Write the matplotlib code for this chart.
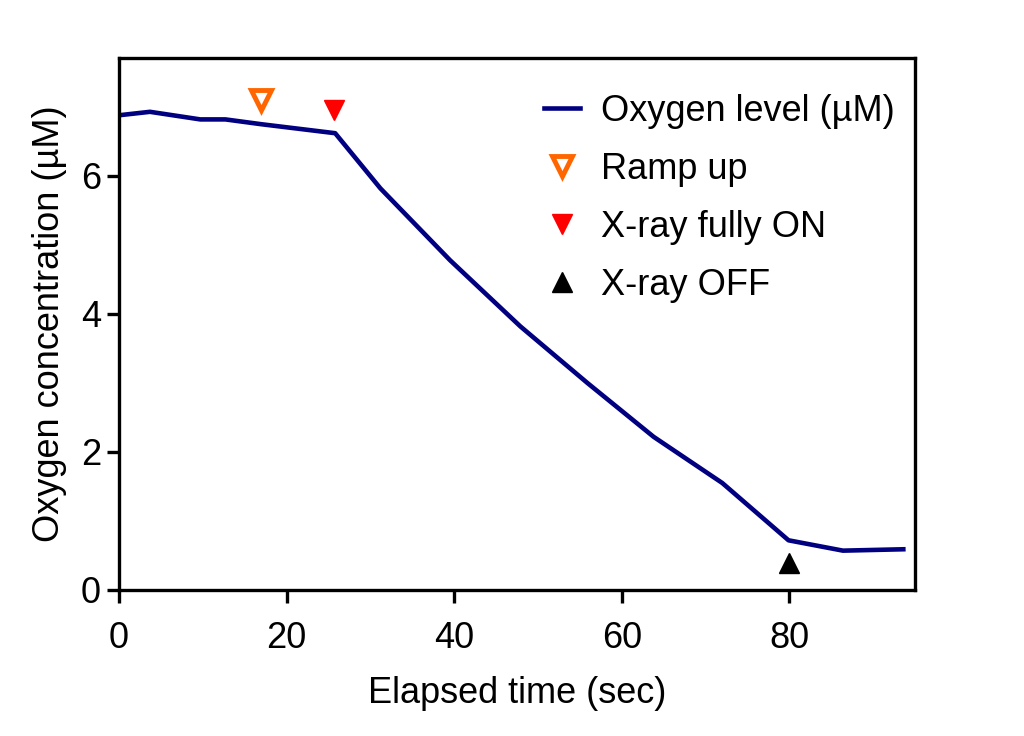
import matplotlib
matplotlib.use("Agg")
import matplotlib.pyplot as plt

# Datos
tiempo = [0, 3.7, 9.7, 12.7, 17.0, 25.8, 31.2, 39.5, 47.9, 55.9, 63.8, 72.0, 79.9, 86.4, 93.6]
oxigeno = [6.88, 6.93, 6.82, 6.82, 6.75, 6.62, 5.82, 4.78, 3.82, 3.0, 2.22, 1.55, 0.72, 0.57, 0.59]

rampa_x, rampa_y = [17.0], [7.1]
encendido_x, encendido_y = [25.7], [6.96]
apagado_x, apagado_y = [79.9], [0.39]

plt.rcParams["font.family"] = ["Liberation Sans", "DejaVu Sans"]
plt.rcParams["font.size"] = 26

fig = plt.figure(figsize=(10.24, 7.36), dpi=100)
ax = fig.add_axes([0.1162, 0.1984, 0.7774, 0.7228])

ax.plot(tiempo, oxigeno, color="#000080", lw=3.3, label="Oxygen level (µM)")
ax.plot(rampa_x, rampa_y, ls="none", marker="v", ms=15, mfc="white",
        mec="#FF6600", mew=3.5, label="Ramp up")
ax.plot(encendido_x, encendido_y, ls="none", marker="v", ms=14, color="#FF0000",
        label="X-ray fully ON")
ax.plot(apagado_x, apagado_y, ls="none", marker="^", ms=14, color="black",
        label="X-ray OFF")

ax.set_xlim(0, 95)
ax.set_ylim(0, 7.71)
ax.set_xticks([0, 20, 40, 60, 80])
ax.set_yticks([0, 2, 4, 6])
ax.set_xlabel("Elapsed time (sec)", fontsize=26, labelpad=15)
ax.set_ylabel("Oxygen concentration (µM)", fontsize=26, labelpad=10)

for spine in ax.spines.values():
    spine.set_linewidth(2.4)
ax.tick_params(width=2.4, length=9, labelsize=26, direction="out")
ax.tick_params(axis="x", pad=13)
ax.tick_params(axis="y", pad=4)

ax.legend(loc="upper right", bbox_to_anchor=(0.993, 0.96), frameon=False,
          fontsize=26, handlelength=1.0, handletextpad=0.6, labelspacing=0.64,
          borderaxespad=0)

fig.savefig("out.png", dpi=100)
